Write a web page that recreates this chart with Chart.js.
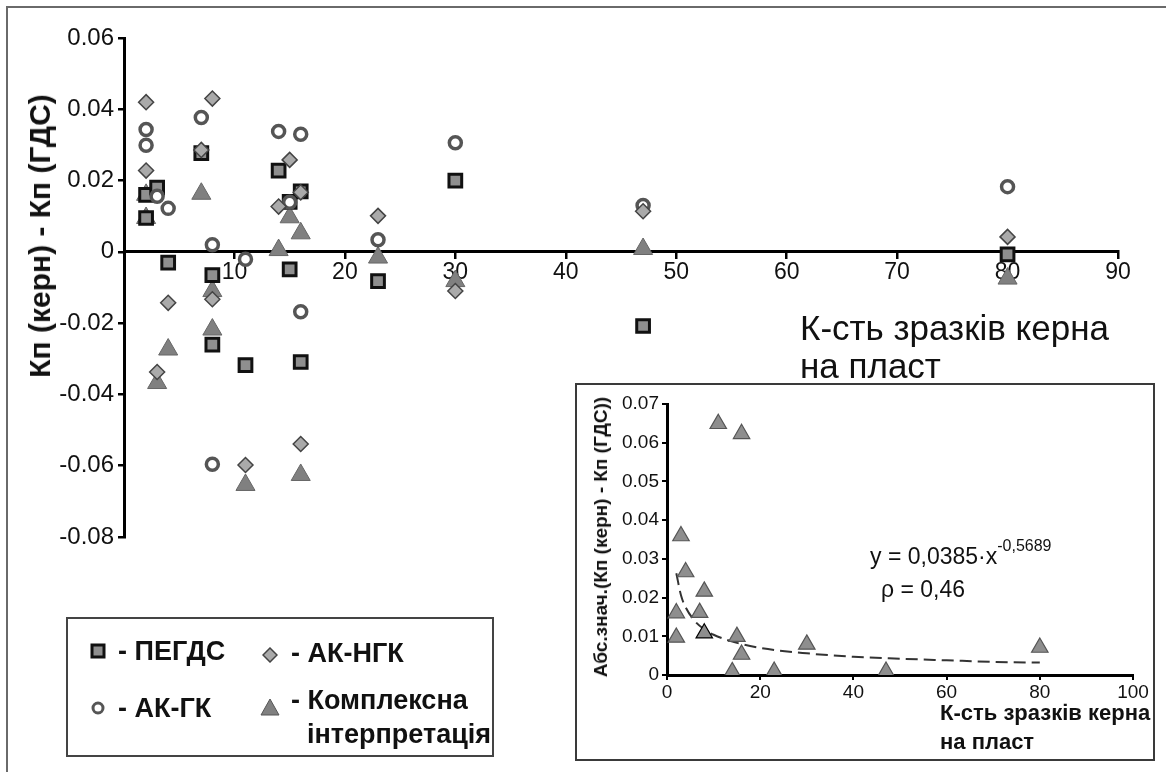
<!DOCTYPE html>
<html>
<head>
<meta charset="utf-8">
<script src="https://cdn.jsdelivr.net/npm/chart.js@4.4.1/dist/chart.umd.min.js"></script>
<style>
    html, body { margin: 0; padding: 0; background: #fff; }
    body { width: 1166px; height: 772px; position: relative; overflow: hidden; font-family: "Liberation Sans", Arial, sans-serif; color: #111; }
    .frame { position: absolute; left: 6px; top: 6px; width: 1300px; height: 900px; border: 2px solid #6a6a6a; }
    #mainChart { position: absolute; left: 0; top: 0; }
    .ytitle { position: absolute; left: 40px; top: 236px; transform: translate(-50%, -50%) rotate(-90deg); white-space: nowrap; font-weight: bold; font-size: 30px; }
    .xtitle { position: absolute; left: 800px; top: 309px; font-size: 35px; line-height: 38px; }
    .legend { position: absolute; left: 66px; top: 617px; width: 428px; height: 140px; border: 2px solid #444; box-sizing: border-box; }
    .item { position: absolute; font-weight: bold; font-size: 27px; line-height: 34px; white-space: nowrap; }
    .item svg { position: absolute; }
    .inset { position: absolute; left: 575px; top: 383px; width: 580px; height: 378px; border: 2px solid #3a3a3a; box-sizing: border-box; background: #fff; }
    #insetChart { position: absolute; left: 0; top: 0; }
    .iytitle { position: absolute; left: 601px; top: 537px; transform: translate(-50%, -50%) rotate(-90deg); white-space: nowrap; font-weight: bold; font-size: 19px; }
    .ixtitle { position: absolute; left: 940px; top: 698px; font-weight: bold; font-size: 22px; line-height: 29px; }
    .eq { position: absolute; left: 870px; top: 541px; font-size: 23px; white-space: nowrap; }
    .eq sup { font-size: 16px; position: relative; top: -4px; }
    .rho { position: absolute; left: 881px; top: 576px; font-size: 23px; white-space: nowrap; }
</style>
</head>
<body>
<div class="frame"></div>
<canvas id="mainChart" width="1166" height="772"></canvas>
<div class="ytitle">Кп (керн) - Кп (ГДС)</div>
<div class="xtitle">К-сть зразків керна<br>на пласт</div>

<div class="legend">
    <div class="item" style="left:28px; top:15px;">
        <svg width="16" height="16" style="left:-6px; top:9px;"><rect x="2" y="2" width="12" height="12" fill="#8f8f8f" stroke="#111" stroke-width="3"/></svg>
        <span style="margin-left:22px;">- ПЕГДС</span>
    </div>
    <div class="item" style="left:194px; top:17px;">
        <svg width="16" height="16" style="left:0px; top:11px;"><polygon points="8,1 15,8 8,15 1,8" fill="#aaa" stroke="#444" stroke-width="1.5"/></svg>
        <span style="margin-left:29px;">- АК-НГК</span>
    </div>
    <div class="item" style="left:28px; top:72px;">
        <svg width="16" height="16" style="left:-6px; top:9px;"><circle cx="8" cy="8" r="5" fill="#fff" stroke="#555" stroke-width="3"/></svg>
        <span style="margin-left:22px;">- АК-ГК</span>
    </div>
    <div class="item" style="left:194px; top:64px;">
        <svg width="20" height="18" style="left:-2px; top:15px;"><polygon points="10,1 19,17 1,17" fill="#808080" stroke="#555" stroke-width="1"/></svg>
        <span style="margin-left:29px;">- Комплексна</span><br>
        <span style="margin-left:45px;">інтерпретація</span>
    </div>
</div>

<div class="inset">
    <canvas id="insetChart" width="576" height="374"></canvas>
</div>
<div class="iytitle">Абс.знач.(Кп (керн) - Кп (ГДС))</div>
<div class="ixtitle">К-сть зразків керна<br>на пласт</div>
<div class="eq">y = 0,0385·x<sup>-0,5689</sup></div>
<div class="rho">ρ = 0,46</div>

<script>
// main chart: differences by method
const pegdsX = [2, 3, 2, 4, 7, 8, 8, 11, 14, 15, 15, 16, 16, 23, 30, 47, 80];
const pegdsY = [0.016, 0.018, 0.0095, -0.003, 0.0277, -0.0065, -0.026, -0.0318, 0.0228, 0.014, -0.0049, 0.017, -0.0309, -0.0082, 0.020, -0.0208, -0.0007];

const akgkX = [2, 2, 3, 4, 7, 8, 8, 11, 14, 15, 16, 16, 23, 30, 47, 80];
const akgkY = [0.0343, 0.0299, 0.0156, 0.0122, 0.0377, 0.002, -0.0596, -0.0021, 0.0338, 0.0139, 0.033, -0.0168, 0.0034, 0.0306, 0.013, 0.0183];

const akngkX = [2, 2, 3, 4, 7, 8, 8, 11, 14, 15, 16, 16, 23, 30, 47, 80];
const akngkY = [0.042, 0.0228, -0.0337, -0.0143, 0.0286, 0.043, -0.0133, -0.0598, 0.0127, 0.0258, 0.0167, -0.0539, 0.0101, -0.011, 0.0114, 0.0042];

const complX = [2, 2, 3, 4, 7, 8, 8, 11, 14, 15, 16, 16, 23, 30, 47, 80];
const complY = [0.016, 0.0095, -0.0368, -0.0274, 0.0163, -0.0218, -0.011, -0.0654, 0.0005, 0.0097, 0.0052, -0.0626, -0.0016, -0.0082, 0.0008, -0.0075];

// inset: absolute values of complex interpretation + trend
const absX = [2, 2, 3, 4, 7, 8, 8, 11, 14, 15, 16, 16, 23, 30, 47, 80];
const absY = [0.016, 0.0097, 0.0359, 0.0266, 0.0161, 0.0216, 0.0108, 0.0649, 0.0008, 0.0099, 0.0053, 0.0623, 0.0009, 0.0079, 0.0009, 0.0071];
const trendX = [2, 3, 4, 6, 8, 10, 15, 20, 30, 40, 50, 60, 70, 80];
const trendY = [0.0263, 0.0206, 0.0175, 0.0139, 0.0118, 0.0104, 0.0083, 0.0070, 0.0056, 0.0047, 0.0042, 0.0038, 0.0034, 0.0032];

const mainXTicks = [10, 20, 30, 40, 50, 60, 70, 80, 90];

const FONT = '"Liberation Sans", Arial, sans-serif';

function toPoints(xs, ys) {
    return xs.map((x, i) => ({ x: x, y: ys[i] }));
}

function fmt(v) {
    if (Math.abs(v) < 1e-9) return '0';
    return v.toFixed(2);
}

new Chart(document.getElementById('mainChart'), {
    type: 'scatter',
    data: {
        datasets: [
            {
                label: 'АК-НГК',
                data: toPoints(akngkX, akngkY),
                pointStyle: 'rectRot',
                pointRadius: 7.5,
                backgroundColor: '#aaaaaa',
                borderColor: '#444',
                borderWidth: 1.5,
                order: 0
            },
            {
                label: 'АК-ГК',
                data: toPoints(akgkX, akgkY),
                pointStyle: 'circle',
                pointRadius: 6,
                backgroundColor: '#ffffff',
                borderColor: '#555',
                borderWidth: 3.5,
                order: 1
            },
            {
                label: 'ПЕГДС',
                data: toPoints(pegdsX, pegdsY),
                pointStyle: 'rect',
                pointRadius: 9,
                backgroundColor: '#8f8f8f',
                borderColor: '#111',
                borderWidth: 3,
                order: 2
            },
            {
                label: 'Комплексна інтерпретація',
                data: toPoints(complX, complY),
                pointStyle: 'triangle',
                pointRadius: 11,
                backgroundColor: '#808080',
                borderColor: '#666',
                borderWidth: 1,
                order: 3
            }
        ]
    },
    options: {
        responsive: false,
        animation: false,
        layout: { padding: { left: 14, right: 48, top: 38, bottom: 235 } },
        plugins: { legend: { display: false }, tooltip: { enabled: false } },
        scales: {
            x: {
                type: 'linear',
                position: { y: 0 },
                min: 0,
                max: 90,
                border: { display: true, color: '#000', width: 3 },
                grid: { drawOnChartArea: false, drawTicks: true, tickLength: 6, color: '#000', lineWidth: 2.5 },
                afterBuildTicks: function (scale) {
                    scale.ticks = [0].concat(mainXTicks).map(v => ({ value: v }));
                },
                ticks: {
                    autoSkip: false,
                    maxRotation: 0,
                    padding: 1,
                    color: '#111',
                    font: { family: FONT, size: 23 },
                    callback: function (v) { return v === 0 ? '' : String(v); }
                }
            },
            y: {
                type: 'linear',
                position: 'left',
                min: -0.08,
                max: 0.06,
                afterFit: function (scale) { scale.width = 110; },
                border: { display: true, color: '#000', width: 3 },
                grid: { drawOnChartArea: false, drawTicks: true, tickLength: 6, color: '#000', lineWidth: 2.5 },
                ticks: {
                    stepSize: 0.02,
                    padding: 4,
                    color: '#111',
                    font: { family: FONT, size: 24 },
                    callback: fmt
                }
            }
        }
    }
});

const absBorder = absX.map((x, i) => i === 6 ? '#000' : '#555');

new Chart(document.getElementById('insetChart'), {
    type: 'scatter',
    data: {
        datasets: [
            {
                label: 'Комплексна інтерпретація',
                data: toPoints(absX, absY),
                pointStyle: 'triangle',
                pointRadius: 9.5,
                backgroundColor: '#8e8e8e',
                borderColor: absBorder,
                borderWidth: 1.2,
                order: 0
            },
            {
                type: 'line',
                label: 'тренд',
                data: toPoints(trendX, trendY),
                borderColor: '#333',
                borderWidth: 2,
                borderDash: [12, 6],
                pointRadius: 0,
                tension: 0.4,
                cubicInterpolationMode: 'monotone',
                fill: false,
                order: 1
            }
        ]
    },
    options: {
        responsive: false,
        animation: false,
        layout: { padding: { left: 10, right: 20, top: 19, bottom: 54 } },
        plugins: { legend: { display: false }, tooltip: { enabled: false } },
        scales: {
            x: {
                type: 'linear',
                position: 'bottom',
                min: 0,
                max: 100,
                afterFit: function (scale) { scale.height = 30; },
                border: { display: true, color: '#000', width: 3 },
                grid: { drawOnChartArea: false, drawTicks: true, tickLength: 5, color: '#000', lineWidth: 2 },
                ticks: {
                    stepSize: 20,
                    padding: 1,
                    maxRotation: 0,
                    color: '#111',
                    font: { family: FONT, size: 19 }
                }
            },
            y: {
                type: 'linear',
                position: 'left',
                min: 0,
                max: 0.07,
                afterFit: function (scale) { scale.width = 80; },
                border: { display: true, color: '#000', width: 3 },
                grid: { drawOnChartArea: false, drawTicks: true, tickLength: 5, color: '#000', lineWidth: 2 },
                ticks: {
                    stepSize: 0.01,
                    padding: 3,
                    color: '#111',
                    font: { family: FONT, size: 19 },
                    callback: fmt
                }
            }
        }
    }
});
</script>
</body>
</html>
